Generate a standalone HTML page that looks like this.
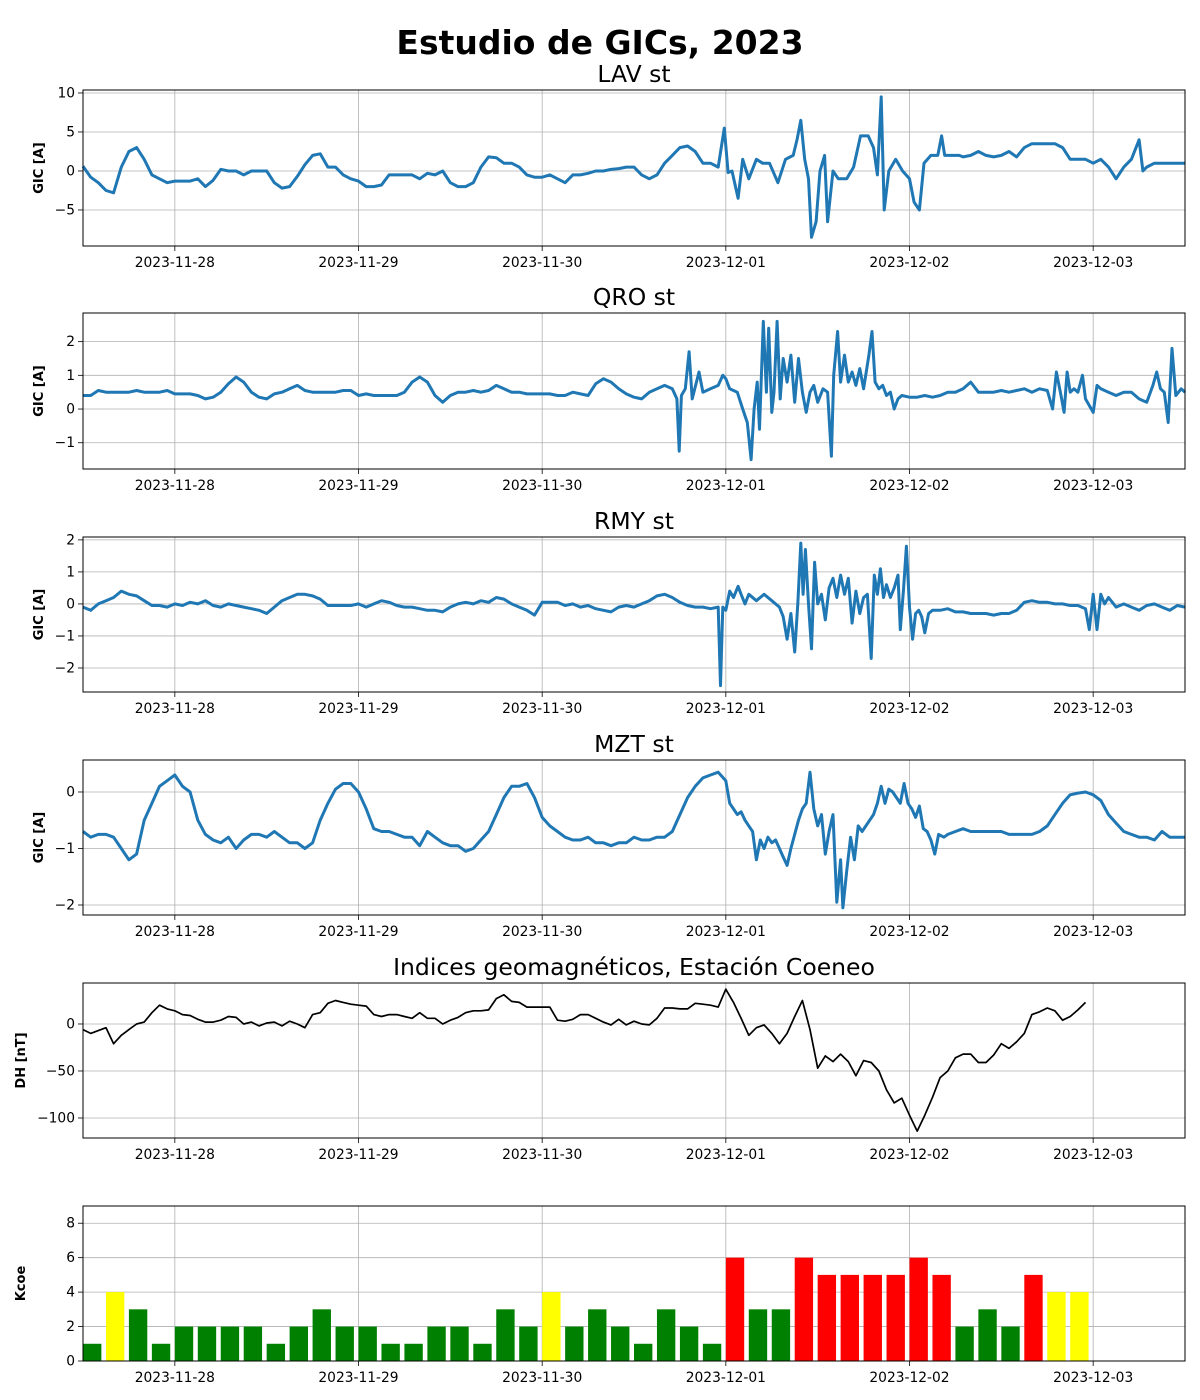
<!DOCTYPE html>
<html><head><meta charset="utf-8">
<style>
html,body{margin:0;padding:0;background:#fff;}
svg{display:block;font-family:"DejaVu Sans","Liberation Sans",sans-serif;}
</style></head>
<body>
<svg id="fig" width="1200" height="1400" viewBox="0 0 1200 1400" xmlns="http://www.w3.org/2000/svg">
<rect width="1200" height="1400" fill="#fff"/>
<text x="600" y="54" text-anchor="middle" font-size="33" font-weight="bold">Estudio de GICs, 2023</text>
</svg>
<script>
const dayLabels = ["2023-11-28","2023-11-29","2023-11-30","2023-12-01","2023-12-02","2023-12-03"];
const dayHours = [12,36,60,84,108,132];

const lavT = [0,1,2,3,4,5,6,7,8,9,10,11,12,13,14,15,16,17,18,19,20,21,22,23,24,25,26,27,28,29,30,31,32,33,34,35,36,37,38,39,40,41,42,43,44,45,46,47,48,49,50,51,52,53,54,55,56,57,58,59,60,61,62,63,64,65,66,67,68,69,70,71,72,73,74,75,76,77,78,79,80,81,82,83,83.8,84.3,84.8,85.6,86.2,87,88,88.8,89.7,90.8,91.8,92.8,93.3,93.8,94.3,94.8,95.2,95.8,96.3,96.9,97.3,98,98.7,99.8,100.7,101.6,102.6,103.3,103.8,104.3,104.7,105.3,106.2,107.1,108,108.6,109.3,109.9,110.8,111.7,112.2,112.6,113.6,114.5,115,116,117,118,119,120,121,122,123,124,125,126,127,128,129,130,131,132,133,134,135,136,137,138,138.5,139,140,141,142,143,144];
const lavV = [0.6,-0.8,-1.5,-2.5,-2.8,0.5,2.5,3.0,1.5,-0.5,-1.0,-1.5,-1.3,-1.3,-1.3,-1.0,-2.0,-1.2,0.2,0,0,-0.5,0,0,0,-1.5,-2.2,-2.0,-0.7,0.8,2.0,2.2,0.5,0.5,-0.5,-1.0,-1.3,-2.0,-2.0,-1.8,-0.5,-0.5,-0.5,-0.5,-1.0,-0.3,-0.5,0,-1.5,-2.0,-2.0,-1.5,0.5,1.8,1.7,1.0,1.0,0.5,-0.5,-0.8,-0.8,-0.5,-1.0,-1.5,-0.5,-0.5,-0.3,0,0,0.2,0.3,0.5,0.5,-0.5,-1.0,-0.5,1.0,2.0,3.0,3.2,2.5,1.0,1.0,0.5,5.5,-0.2,0.0,-3.5,1.5,-1.0,1.5,1.0,1.0,-1.5,1.5,2.0,4.0,6.5,1.5,-1.0,-8.5,-6.5,0.0,2.0,-6.5,0.0,-1.0,-1.0,0.5,4.5,4.5,3.0,-0.5,9.5,-5.0,0.0,1.5,0.0,-1.0,-4.0,-5.0,1.0,2.0,2.0,4.5,2.0,2.0,2.0,1.8,2.0,2.5,2.0,1.8,2.0,2.5,1.8,3.0,3.5,3.5,3.5,3.5,3.0,1.5,1.5,1.5,1.0,1.5,0.5,-1.0,0.5,1.5,4.0,0.0,0.5,1.0,1.0,1.0,1.0,1.0];

const qroT = [0,1,2,3,4,5,6,7,8,9,10,11,12,13,14,15,16,17,18,19,20,21,22,23,24,25,26,27,28,29,30,31,32,33,34,35,36,37,38,39,40,41,42,43,44,45,46,47,48,49,50,51,52,53,54,55,56,57,58,59,60,61,62,63,64,65,66,67,68,69,70,71,72,73,74,75,76,77,77.6,77.9,78.2,78.7,79.2,79.6,80.5,81,82,83,83.6,84,84.5,85.5,86.2,86.8,87.3,87.7,88.1,88.4,88.9,89.3,89.6,90,90.3,90.7,91.1,91.5,92,92.5,93,93.5,94,94.5,95,95.5,96,96.7,97.3,97.8,98.1,98.6,99,99.5,100,100.5,101,101.5,102,102.7,103.1,103.5,104,104.5,105,105.5,106,106.5,107,108,109,110,111,112,113,114,115,116,117,118,119,120,121,122,123,124,125,126,126.7,127.2,127.8,128.2,128.6,129,129.5,130,130.6,131,132,132.5,133,134,135,136,137,138,139,139.8,140.3,140.8,141.3,141.8,142.3,142.8,143.5,144];
const qroV = [0.4,0.4,0.55,0.5,0.5,0.5,0.5,0.55,0.5,0.5,0.5,0.55,0.45,0.45,0.45,0.4,0.3,0.35,0.5,0.75,0.95,0.8,0.5,0.35,0.3,0.45,0.5,0.6,0.7,0.55,0.5,0.5,0.5,0.5,0.55,0.55,0.4,0.45,0.4,0.4,0.4,0.4,0.5,0.8,0.95,0.8,0.4,0.2,0.4,0.5,0.5,0.55,0.5,0.55,0.7,0.6,0.5,0.5,0.45,0.45,0.45,0.45,0.4,0.4,0.5,0.45,0.4,0.75,0.9,0.8,0.6,0.45,0.35,0.3,0.5,0.6,0.7,0.6,0.3,-1.25,0.4,0.6,1.7,0.3,1.1,0.5,0.6,0.7,1.0,0.9,0.6,0.5,0.0,-0.4,-1.5,0.0,0.8,-0.6,2.6,0.5,2.4,-0.1,0.5,2.6,0.3,1.5,0.8,1.6,0.2,1.5,0.5,-0.1,0.5,0.7,0.2,0.6,0.5,-1.4,1.0,2.3,0.8,1.6,0.8,1.1,0.7,1.2,0.6,1.6,2.3,0.8,0.6,0.7,0.4,0.5,0.0,0.3,0.4,0.35,0.35,0.4,0.35,0.4,0.5,0.5,0.6,0.8,0.5,0.5,0.5,0.55,0.5,0.55,0.6,0.5,0.6,0.55,0.0,1.1,0.4,-0.1,1.1,0.5,0.6,0.5,1.0,0.3,-0.1,0.7,0.6,0.5,0.4,0.5,0.5,0.3,0.2,0.7,1.1,0.6,0.5,-0.4,1.8,0.4,0.6,0.5];

const rmyT = [0,1,2,3,4,5,6,7,8,9,10,11,12,13,14,15,16,17,18,19,20,21,22,23,24,25,26,27,28,29,30,31,32,33,34,35,36,37,38,39,40,41,42,43,44,45,46,47,48,49,50,51,52,53,54,55,56,57,58,59,60,61,62,63,64,65,66,67,68,69,70,71,72,73,74,75,76,77,78,79,80,81,82,83,83.3,83.6,84,84.5,85,85.6,86,86.5,87,88,89,90,91,91.5,92,92.5,93,93.4,93.8,94.1,94.4,94.8,95.2,95.6,96,96.5,97,97.5,98,98.5,99,99.5,100,100.5,101,101.5,102,102.5,103,103.4,103.8,104.2,104.6,105,105.5,106,106.5,106.8,107.2,107.6,108,108.4,108.8,109.2,109.6,110,110.5,111,112,113,114,115,116,117,118,119,120,121,122,123,124,125,126,127,128,129,130,131,131.5,132,132.5,133,133.5,134,135,136,137,138,139,140,141,142,143,144];
const rmyV = [-0.1,-0.2,0.0,0.1,0.2,0.4,0.3,0.25,0.1,-0.05,-0.05,-0.1,0.0,-0.05,0.05,0.0,0.1,-0.05,-0.1,0.0,-0.05,-0.1,-0.15,-0.2,-0.3,-0.1,0.1,0.2,0.3,0.3,0.25,0.15,-0.05,-0.05,-0.05,-0.05,0.0,-0.1,0.0,0.1,0.05,-0.05,-0.1,-0.1,-0.15,-0.2,-0.2,-0.25,-0.1,0.0,0.05,0.0,0.1,0.05,0.2,0.15,0.0,-0.1,-0.2,-0.35,0.05,0.05,0.05,-0.05,0.0,-0.1,-0.05,-0.15,-0.2,-0.25,-0.1,-0.05,-0.1,0.0,0.1,0.25,0.3,0.2,0.05,-0.05,-0.1,-0.1,-0.15,-0.1,-2.55,-0.1,-0.2,0.4,0.2,0.55,0.3,0.0,0.3,0.1,0.3,0.1,-0.1,-0.4,-1.1,-0.3,-1.5,0.0,1.9,0.3,1.7,0.0,-1.4,1.3,0.0,0.3,-0.5,0.5,0.8,0.2,0.9,0.3,0.8,-0.6,0.4,-0.3,0.2,0.3,-1.7,0.9,0.3,1.1,0.2,0.6,0.2,0.5,0.9,-0.8,0.4,1.8,-0.1,-1.1,-0.3,-0.2,-0.4,-0.9,-0.3,-0.2,-0.2,-0.15,-0.25,-0.25,-0.3,-0.3,-0.3,-0.35,-0.3,-0.3,-0.2,0.05,0.1,0.05,0.05,0.0,0.0,-0.05,-0.05,-0.15,-0.8,0.3,-0.8,0.3,0.0,0.2,-0.1,0.0,-0.1,-0.2,-0.05,0.0,-0.1,-0.2,-0.05,-0.1];

const mztT = [0,1,2,3,4,5,6,7,8,9,10,11,12,13,14,15,16,17,18,19,20,21,22,23,24,25,26,27,28,29,30,31,32,33,34,35,36,37,38,39,40,41,42,43,44,45,46,47,48,49,50,51,52,53,54,55,56,57,58,59,60,61,62,63,64,65,66,67,68,69,70,71,72,73,74,75,76,77,78,79,80,81,82,83,84,84.5,85,85.5,86,86.5,87,87.5,88,88.5,89,89.5,90,90.5,91,91.5,92,92.5,93,93.5,94,94.5,95,95.5,96,96.5,97,97.5,98,98.5,99,99.3,99.8,100.3,100.8,101.3,101.8,102.3,102.8,103.3,103.8,104.3,104.8,105.3,105.8,106.3,106.8,107.3,107.8,108.3,108.8,109.3,109.8,110.3,110.8,111.3,111.8,112.5,113,114,115,116,117,118,119,120,121,122,123,124,125,126,127,128,129,130,131,132,133,134,135,136,137,138,139,140,141,142,143,144];
const mztV = [-0.7,-0.8,-0.75,-0.75,-0.8,-1.0,-1.2,-1.1,-0.5,-0.2,0.1,0.2,0.3,0.1,0.0,-0.5,-0.75,-0.85,-0.9,-0.8,-1.0,-0.85,-0.75,-0.75,-0.8,-0.7,-0.8,-0.9,-0.9,-1.0,-0.9,-0.5,-0.2,0.05,0.15,0.15,0.0,-0.3,-0.65,-0.7,-0.7,-0.75,-0.8,-0.8,-0.95,-0.7,-0.8,-0.9,-0.95,-0.95,-1.05,-1.0,-0.85,-0.7,-0.4,-0.1,0.1,0.1,0.15,-0.1,-0.45,-0.6,-0.7,-0.8,-0.85,-0.85,-0.8,-0.9,-0.9,-0.95,-0.9,-0.9,-0.8,-0.85,-0.85,-0.8,-0.8,-0.7,-0.4,-0.1,0.1,0.25,0.3,0.35,0.2,-0.2,-0.3,-0.4,-0.35,-0.5,-0.6,-0.7,-1.2,-0.85,-1.0,-0.8,-0.9,-0.85,-1.0,-1.15,-1.3,-1.0,-0.75,-0.5,-0.3,-0.2,0.35,-0.3,-0.6,-0.4,-1.1,-0.7,-0.4,-1.95,-1.2,-2.05,-1.4,-0.8,-1.2,-0.6,-0.7,-0.6,-0.5,-0.4,-0.2,0.1,-0.2,0.05,0.0,-0.1,-0.2,0.15,-0.2,-0.3,-0.45,-0.25,-0.65,-0.7,-0.85,-1.1,-0.75,-0.8,-0.75,-0.7,-0.65,-0.7,-0.7,-0.7,-0.7,-0.7,-0.75,-0.75,-0.75,-0.75,-0.7,-0.6,-0.4,-0.2,-0.05,-0.02,0.0,-0.05,-0.15,-0.4,-0.55,-0.7,-0.75,-0.8,-0.8,-0.85,-0.7,-0.8,-0.8,-0.8];

const dhValues = [-6,-10,-7,-4,-21,-12,-6,0,2,12,20,16,14,10,9,5,2,2,4,8,7,0,2,-2,1,2,-2,3,0,-4,10,12,22,25,23,21,20,19,10,8,10,10,8,6,12,6,6,0,4,7,12,14,14,15,27,31,24,23,18,18,18,18,4,3,5,10,10,6,2,-1,5,-1,3,0,-1,6,17,17,16,16,22,21,20,18,37,23,6,-12,-4,-1,-10,-21,-10,8,25,-6,-47,-34,-40,-32,-40,-55,-39,-41,-50,-70,-84,-79,-97,-114,-97,-78,-57,-50,-36,-32,-32,-41,-41,-33,-21,-26,-19,-10,10,13,17,14,4,8,15,23];

const kValues = [1,4,3,1,2,2,2,2,1,2,3,2,2,1,1,2,2,1,3,2,4,2,3,2,1,3,2,1,6,3,3,6,5,5,5,5,6,5,2,3,2,5,4,4];

const svg = document.getElementById('fig');
const NS = 'http://www.w3.org/2000/svg';
const X0 = 83, X1 = 1185, HSPAN = 144;
function xs(h){ return X0 + h / HSPAN * (X1 - X0); }
function mk(tag, attrs){ const e = document.createElementNS(NS, tag); for (const k in attrs) e.setAttribute(k, attrs[k]); return e; }

function panel(cfg){
  const g = mk('g', {});
  
  
  svg.appendChild(g);
  const ys = v => cfg.bottom - (v - cfg.ymin) / (cfg.ymax - cfg.ymin) * (cfg.bottom - cfg.top);
  cfg.ys = ys;
  dayHours.forEach((h, i) => {
    const l = mk('line', {x1: xs(h), x2: xs(h), y1: cfg.top, y2: cfg.bottom, stroke: '#b0b0b0', 'stroke-width': 0.8});
    
    
    g.appendChild(l);
    const tk = mk('line', {x1: xs(h), x2: xs(h), y1: cfg.bottom, y2: cfg.bottom + 5, stroke: '#000', 'stroke-width': 0.8});
    g.appendChild(tk);
    const t = mk('text', {x: xs(h), y: cfg.bottom + 21, 'text-anchor': 'middle', 'font-size': 13.8});
    
    
    t.textContent = dayLabels[i];
    g.appendChild(t);
  });
  cfg.yticks.forEach(v => {
    const y = ys(v);
    const l = mk('line', {x1: X0, x2: X1, y1: y, y2: y, stroke: '#b0b0b0', 'stroke-width': 0.8});
    
    
    g.appendChild(l);
    g.appendChild(mk('line', {x1: X0 - 5, x2: X0, y1: y, y2: y, stroke: '#000', 'stroke-width': 0.8}));
    const t = mk('text', {x: X0 - 8, y: y + 4.5, 'text-anchor': 'end', 'font-size': 13.8});
    
    
    t.textContent = String(v).replace('-', '\u2212');
    g.appendChild(t);
  });
  const yl = mk('text', {x: 0, y: 0, 'text-anchor': 'middle', 'font-size': 13, 'font-weight': 'bold', transform: 'translate(' + cfg.ylx + ',' + ((cfg.top + cfg.bottom) / 2) + ') rotate(-90)'});
  
  
  yl.textContent = cfg.ylabel;
  g.appendChild(yl);
  if (cfg.title) {
    const tt = mk('text', {x: 634, y: cfg.top - 8, 'text-anchor': 'middle', 'font-size': 23.5});
    
    
    tt.textContent = cfg.title;
    g.appendChild(tt);
  }
  cfg.g = g;
  return cfg;
}
function frame(cfg){
  const r = mk('rect', {x: X0, y: cfg.top, width: X1 - X0, height: cfg.bottom - cfg.top, fill: 'none', stroke: '#000', 'stroke-width': 1});
  
  
  cfg.g.appendChild(r);
}
function series(cfg, T, V, color, w, name){
  let d = '';
  T.forEach((h, i) => { d += (i ? 'L' : 'M') + xs(h).toFixed(1) + ' ' + cfg.ys(V[i]).toFixed(1); });
  const p = mk('path', {d: d, fill: 'none', stroke: color, 'stroke-width': w, 'stroke-linejoin': 'round'});
  
  
  cfg.g.appendChild(p);
}

const p1 = panel({name: 'lav', top: 90, bottom: 246, ymin: -9.62, ymax: 10.38, yticks: [10,5,0,-5], ylabel: 'GIC [A]', ylx: 43, title: 'LAV st'});
series(p1, lavT, lavV, '#1f77b4', 3, 'lav-gic-line'); frame(p1);
const p2 = panel({name: 'qro', top: 313, bottom: 469, ymin: -1.78, ymax: 2.85, yticks: [2,1,0,-1], ylabel: 'GIC [A]', ylx: 43, title: 'QRO st'});
series(p2, qroT, qroV, '#1f77b4', 3, 'qro-gic-line'); frame(p2);
const p3 = panel({name: 'rmy', top: 537, bottom: 692, ymin: -2.75, ymax: 2.09, yticks: [2,1,0,-1,-2], ylabel: 'GIC [A]', ylx: 43, title: 'RMY st'});
series(p3, rmyT, rmyV, '#1f77b4', 3, 'rmy-gic-line'); frame(p3);
const p4 = panel({name: 'mzt', top: 760, bottom: 915, ymin: -2.177, ymax: 0.566, yticks: [0,-1,-2], ylabel: 'GIC [A]', ylx: 43, title: 'MZT st'});
series(p4, mztT, mztV, '#1f77b4', 3, 'mzt-gic-line'); frame(p4);
const p5 = panel({name: 'dh', top: 983, bottom: 1138, ymin: -121.3, ymax: 43.6, yticks: [0,-50,-100], ylabel: 'DH [nT]', ylx: 25, title: 'Indices geomagnéticos, Estación Coeneo'});
series(p5, dhValues.map((v, i) => i), dhValues, '#000', 1.7, 'dh-line'); frame(p5);
const p6 = panel({name: 'kcoe', top: 1206, bottom: 1361, ymin: 0, ymax: 9, yticks: [0,2,4,6,8], ylabel: 'Kcoe', ylx: 25, title: ''});
kValues.forEach((v, i) => {
  const x = xs(i * 3), w = xs(i * 3 + 2.4) - x;
  const col = v >= 5 ? '#ff0000' : (v >= 4 ? '#ffff00' : '#008000');
  const r = mk('rect', {x: x, y: p6.ys(v), width: w, height: p6.ys(0) - p6.ys(v), fill: col});
  
  
  p6.g.appendChild(r);
});
frame(p6);
</script>
</body></html>
